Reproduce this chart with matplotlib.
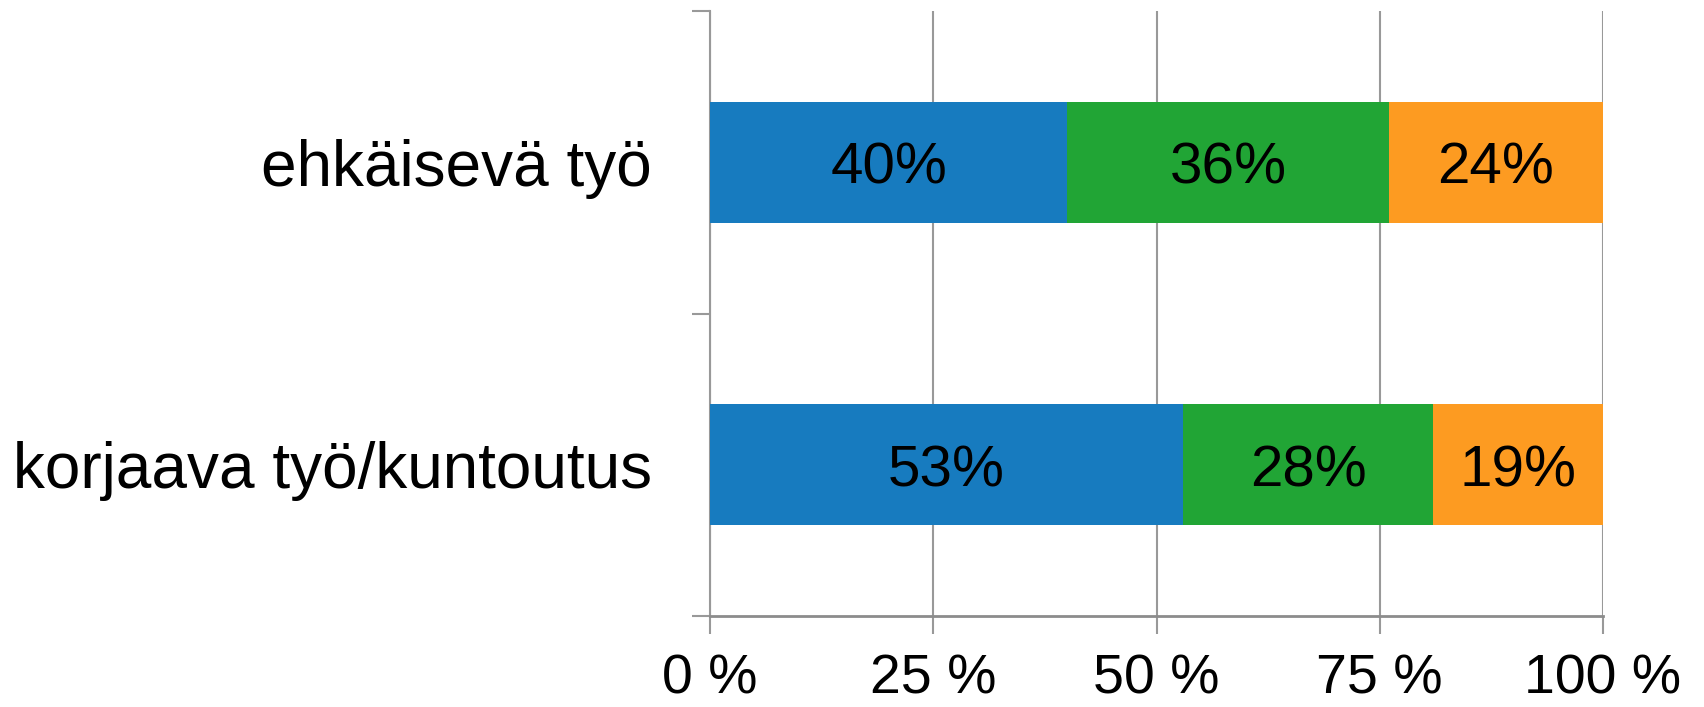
import matplotlib.pyplot as plt
import numpy as np

categories = ['ehkäisevä työ', 'korjaava työ/kuntoutus']
blue_vals = [40, 53]
green_vals = [36, 28]
orange_vals = [24, 19]
x_ticks = [0, 25, 50, 75, 100]
x_tick_labels = ['0 %', '25 %', '50 %', '75 %', '100 %']

colors = ['#177BBF', '#21A535', '#FD9B21']

plt.rcParams['font.family'] = ['Liberation Sans', 'DejaVu Sans']

fig = plt.figure(figsize=(17.04, 7.07), dpi=100)
ax = fig.add_axes([0.4167, 0.1287, 0.9407 - 0.4167, 0.9844 - 0.1287])

y = np.arange(len(categories))[::-1]
left = np.zeros(len(categories))
for vals, col in zip([blue_vals, green_vals, orange_vals], colors):
    ax.barh(y, vals, left=left, height=0.4, color=col, zorder=3)
    # percentage labels in the middle of each segment
    for yi, l, v in zip(y, left, vals):
        ax.text(l + v / 2, yi - 0.022, '{}%'.format(v), ha='center', va='center',
                fontsize=42, color='black', zorder=4)
    left = left + np.array(vals)

ax.set_xlim(0, 100)
ax.set_ylim(-0.5, 1.5)

ax.set_xticks(x_ticks)
ax.set_xticklabels(x_tick_labels, fontsize=40)
ax.tick_params(axis='x', length=13, width=1.5, color='#999999', pad=14)
ax.xaxis.grid(True, color='#999999', linewidth=1.5, zorder=0)

ax.set_yticks(y)
ax.set_yticklabels(categories, fontsize=46)
ax.set_yticks([-0.5, 0.5, 1.5], minor=True)
ax.tick_params(axis='y', which='major', length=0, pad=42)
ax.tick_params(axis='y', which='minor', length=13, width=1.5, color='#999999')

for s in ['top', 'right']:
    ax.spines[s].set_visible(False)
ax.spines['left'].set_color('#999999')
ax.spines['left'].set_linewidth(1.5)
ax.spines['bottom'].set_color('#8c8c8c')
ax.spines['bottom'].set_linewidth(2)

plt.savefig('out.png', dpi=100)
